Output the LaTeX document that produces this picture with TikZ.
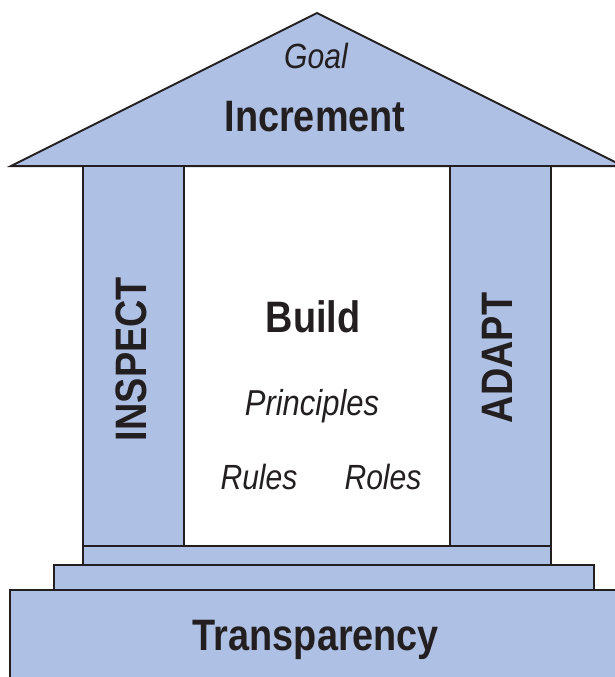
\documentclass[tikz,border=0pt]{standalone}
\usepackage{fontspec}
\setmainfont{Liberation Sans}[FakeStretch=0.86]
\usepackage{tikz}

\definecolor{pillar}{RGB}{174,192,227}
\definecolor{ink}{RGB}{35,31,32}

\begin{document}
\begin{tikzpicture}[x=1pt,y=-1pt,
    part/.style={draw=ink,fill=pillar,line width=2pt},
    bigword/.style={font=\fontsize{44}{44}\selectfont\bfseries,text=ink},
    smallword/.style={font=\fontsize{35}{35}\selectfont\itshape,text=ink}]
    \useasboundingbox (0,0) rectangle (615,677);

    % roof
    \draw[part,line join=miter] (11,166) -- (317,13) -- (623,166) -- cycle;

    % pillars
    \draw[part] (83,166) rectangle (184,546);
    \draw[part] (450,166) rectangle (551,546);

    % steps and base
    \draw[part] (83,546) rectangle (551,565);
    \draw[part] (54,565) rectangle (594,590);
    \draw[part] (10,590) rectangle (630,700);

    \node[smallword,anchor=base] (goal) at (316,69) {Goal};
    \node[bigword,anchor=base] (increment) at (315,131) {Increment};

    \node[bigword,rotate=90] (inspect) at (131,359) {INSPECT};
    \node[bigword,rotate=90] (adapt) at (497,358) {ADAPT};

    \node[bigword,anchor=base] (build) at (313,332) {Build};
    \node[smallword,anchor=base,font=\fontsize{36}{36}\selectfont\itshape] (principles) at (312,415) {Principles};
    \node[smallword,anchor=base] (rules) at (259,489) {Rules};
    \node[smallword,anchor=base] (roles) at (383,489) {Roles};

    \node[bigword,anchor=base] (transparency) at (316,650) {Transparency};
\end{tikzpicture}
\end{document}
